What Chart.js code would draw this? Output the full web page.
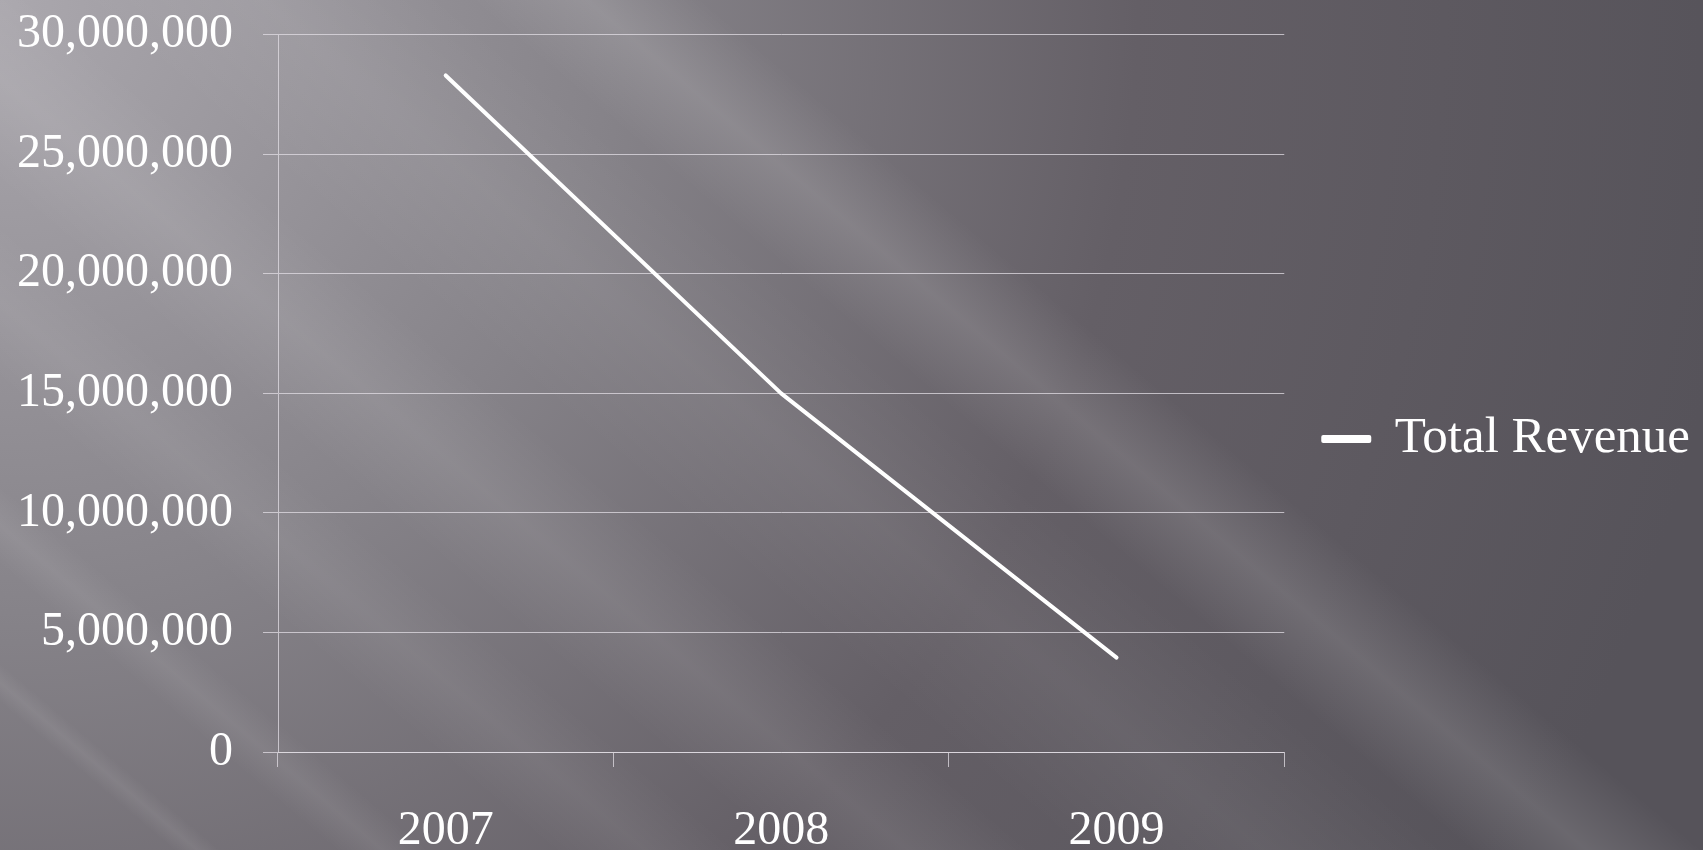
<!DOCTYPE html>
<html>
<head>
<meta charset="utf-8">
<script src="https://cdn.jsdelivr.net/npm/chart.js@4.4.1/dist/chart.umd.min.js"></script>
<style>
  html, body { margin: 0; padding: 0; background: #6c696f; }
  #wrap { width: 1703px; height: 850px; position: relative; }
</style>
</head>
<body>
<div id="wrap"><canvas id="c" width="1703" height="850"></canvas></div>
<script>
const years = ['2007', '2008', '2009'];
const totalRevenue = [28300000, 15000000, 3950000];
const seriesLabel = 'Total Revenue';
const yMin = 0, yMax = 30000000, yStep = 5000000;

const bgPlugin = {
  id: 'bg',
  beforeDraw(chart) {
    const ctx = chart.ctx, W = chart.width, H = chart.height;
    ctx.save();
    const g = ctx.createRadialGradient(0, 0, 0, 0, 0, 1750);
    g.addColorStop(0, '#aba8ae');
    g.addColorStop(0.35, '#868389');
    g.addColorStop(0.65, '#645f66');
    g.addColorStop(1, '#56535a');
    ctx.fillStyle = g;
    ctx.fillRect(0, 0, W, H);
    const th = Math.atan(0.85);
    ctx.rotate(th);
    const bands = [
      [-380, 150, 0.12],
      [-170, 240, 0.06],
      [60, 160, 0.08],
      [230, 120, 0.06],
      [400, 60, 0.07],
      [520, 30, 0.07]
    ];
    for (const [s0, w, a] of bands) {
      const lg = ctx.createLinearGradient(0, s0 - w / 2, 0, s0 + w / 2);
      lg.addColorStop(0, 'rgba(255,255,255,0)');
      lg.addColorStop(0.5, 'rgba(255,255,255,' + a + ')');
      lg.addColorStop(1, 'rgba(255,255,255,0)');
      ctx.fillStyle = lg;
      ctx.fillRect(-3000, s0 - w / 2, 6000, w);
    }
    ctx.restore();
  }
};

const gridCol = 'rgba(225,222,228,0.75)';
const fontFam = '"Liberation Serif", "Times New Roman", serif';

new Chart(document.getElementById('c'), {
  type: 'line',
  data: {
    labels: years,
    datasets: [{
      label: seriesLabel,
      data: totalRevenue,
      borderColor: '#ffffff',
      backgroundColor: '#ffffff',
      borderWidth: 4,
      borderCapStyle: 'round',
      borderJoinStyle: 'round',
      pointRadius: 0,
      tension: 0
    }]
  },
  options: {
    responsive: false,
    animation: false,
    layout: { padding: { top: -17, left: -13, right: 3, bottom: -45 } },
    plugins: {
      legend: {
        position: 'right',
        labels: {
          color: '#ffffff',
          font: { family: fontFam, size: 51 },
          boxWidth: 46,
          boxHeight: 4,
          padding: 39
        }
      },
      tooltip: { enabled: false }
    },
    scales: {
      x: {
        offset: true,
        grid: {
          offset: true,
          drawOnChartArea: false,
          drawTicks: true,
          tickLength: 15,
          color: gridCol
        },
        border: { display: true, color: gridCol },
        ticks: {
          color: '#ffffff',
          font: { family: fontFam, size: 48, lineHeight: 1.0 },
          padding: 40
        }
      },
      y: {
        min: yMin,
        max: yMax,
        grid: { color: gridCol, tickLength: 15 },
        border: { display: true, color: gridCol },
        ticks: {
          stepSize: yStep,
          color: '#ffffff',
          font: { family: fontFam, size: 48, lineHeight: 0.2 },
          padding: 30,
          callback: v => Number(v).toLocaleString('en-US')
        }
      }
    }
  },
  plugins: [bgPlugin]
});
</script>
</body>
</html>
